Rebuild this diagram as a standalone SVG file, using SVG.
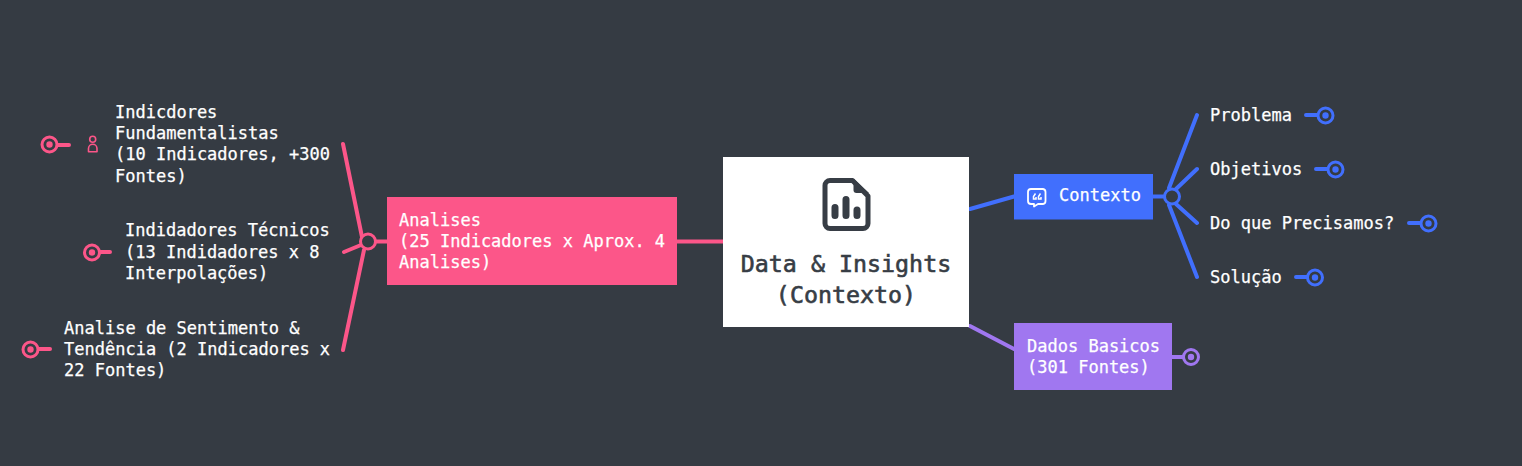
<svg xmlns="http://www.w3.org/2000/svg" width="1522" height="466" viewBox="0 0 1522 466">
<style>
text{font-family:"DejaVu Sans Mono","Liberation Mono",monospace;font-size:17px;fill:#fff;stroke:#fff;stroke-width:.25px}
.title{font-size:23.3px;fill:#373d45;stroke:#373d45;stroke-width:.6px;text-anchor:middle}
.l{fill:none;stroke-width:4;stroke-linecap:round}
.p{stroke:#fc5689}.b{stroke:#416ffd}.v{stroke:#a077f0}
.ring{fill:#353b43;stroke-width:3}
.dot{stroke:none}
</style>
<rect width="1522" height="466" fill="#353b43"/>
<g id="connectors">
<path class="l p" d="M723 241.500H677M387 241.500H368M362 237L343 144M361 245L344 252M364 250L343 350M69 145H56M110 252H97"/>
<path class="l b" d="M970 209L1014 196.500M1153 196.500H1172M1169 188L1197 115M1176 189L1197 169M1176 204L1197 223M1169 205L1197 277M1306 115H1318M1316 169H1328M1409 223H1421M1296 277H1308"/>
<path class="l v" d="M970 326L1014 349M1172 357H1184"/>
<path class="l p" d="M37 349H50"/>
<circle class="ring p" cx="368" cy="241.500" r="7.500"/>
<circle class="ring b" cx="1172" cy="196.500" r="7.500"/>
</g>
<g id="root">
<rect x="723" y="157" width="246" height="170" fill="#fff"/>
<path d="M830 180.500H852.500L868 196V223.500A5 5 0 0 1 863 228.500H830A5 5 0 0 1 825 223.500V185.500A5 5 0 0 1 830 180.500Z" fill="none" stroke="#373d45" stroke-width="5" stroke-linejoin="round"/>
<path d="M853.500 180V190A3 3 0 0 0 856.500 193H869L854 179Z" fill="#373d45"/>
<path d="M835 207.500V215.500M846 199.500V215.500M857 210V215.500" fill="none" stroke="#373d45" stroke-width="7" stroke-linecap="round"/>
<text class="title" x="846" y="272">Data &amp; Insights</text>
<text class="title" x="846" y="303">(Contexto)</text>
</g>
<g id="analises">
<rect x="387" y="197" width="290" height="88" fill="#fc5689"/>
<text x="399" y="226">Analises</text>
<text x="399" y="247">(25 Indicadores x Aprox. 4</text>
<text x="399" y="268">Analises)</text>
</g>
<g id="contexto">
<rect x="1014" y="174" width="139" height="45.500" fill="#416ffd"/>
<path d="M1031 189H1043A3 3 0 0 1 1045.500 192V201A3 3 0 0 1 1043 204H1038L1034 206.500V204H1031A3 3 0 0 1 1028 201V192A3 3 0 0 1 1031 189Z" fill="none" stroke="#fff" stroke-width="1.800" stroke-linejoin="round"/>
<path d="M1035.500 193.500L1033.500 196.500V199H1036V197M1040.500 193.500L1038.500 196.500V199H1041V197" fill="none" stroke="#fff" stroke-width="1.500"/>
<text x="1059" y="201">Contexto</text>
</g>
<g id="dados">
<rect x="1014" y="323" width="158" height="67" fill="#a077f0"/>
<text x="1027" y="352">Dados Basicos</text>
<text x="1027" y="373">(301 Fontes)</text>
</g>
<g id="problema">
<text x="1210" y="121">Problema</text>
<circle class="ring b" cx="1325.500" cy="115.500" r="7.500"/><circle class="dot" cx="1325.500" cy="115.500" r="3.200" fill="#416ffd"/>
</g>
<g id="objetivos">
<text x="1210" y="175">Objetivos</text>
<circle class="ring b" cx="1335.500" cy="169.500" r="7.500"/><circle class="dot" cx="1335.500" cy="169.500" r="3.200" fill="#416ffd"/>
</g>
<g id="precisamos">
<text x="1210" y="229">Do que Precisamos?</text>
<circle class="ring b" cx="1428.500" cy="223.500" r="7.500"/><circle class="dot" cx="1428.500" cy="223.500" r="3.200" fill="#416ffd"/>
</g>
<g id="solucao">
<text x="1210" y="283">Solução</text>
<circle class="ring b" cx="1315" cy="277.500" r="7.500"/><circle class="dot" cx="1315" cy="277.500" r="3.200" fill="#416ffd"/>
</g>
<g id="dados-marker">
<circle class="ring v" cx="1191" cy="357" r="7.500"/><circle class="dot" cx="1191" cy="357" r="3.200" fill="#a077f0"/>
</g>
<g id="fundamentalistas">
<text x="115" y="118">Indicdores</text>
<text x="115" y="139">Fundamentalistas</text>
<text x="115" y="160">(10 Indicadores, +300</text>
<text x="115" y="182">Fontes)</text>
<circle class="ring p" cx="49.500" cy="144.500" r="7.500"/><circle class="dot" cx="49.500" cy="144.500" r="3.200" fill="#fc5689"/>
<circle cx="92.700" cy="139.300" r="3" fill="none" stroke="#fc5689" stroke-width="1.600"/>
<path d="M88.500 151.800V148.500A4.200 4.200 0 0 1 97 148.500V151.800Z" fill="none" stroke="#fc5689" stroke-width="1.600" stroke-linejoin="round"/>
</g>
<g id="tecnicos">
<text x="125" y="236">Indidadores Técnicos</text>
<text x="125" y="258">(13 Indidadores x 8</text>
<text x="125" y="279">Interpolações)</text>
<circle class="ring p" cx="92" cy="252.500" r="7.500"/><circle class="dot" cx="92" cy="252.500" r="3.200" fill="#fc5689"/>
</g>
<g id="sentimento">
<text x="64" y="334">Analise de Sentimento &amp;</text>
<text x="64" y="355">Tendência (2 Indicadores x</text>
<text x="64" y="376">22 Fontes)</text>
<circle class="ring p" cx="30.500" cy="349.500" r="7.500"/><circle class="dot" cx="30.500" cy="349.500" r="3.200" fill="#fc5689"/>
</g>
</svg>
